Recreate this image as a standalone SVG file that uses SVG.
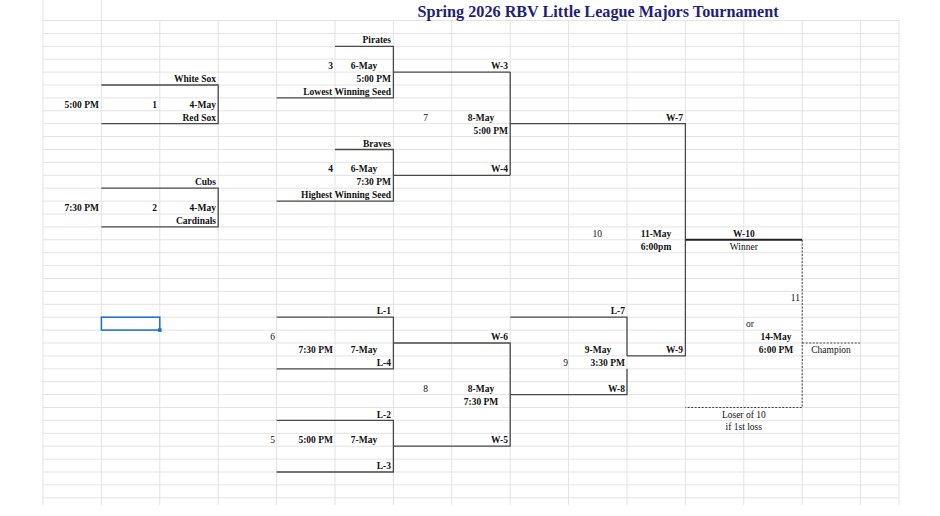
<svg xmlns="http://www.w3.org/2000/svg" width="940" height="516" viewBox="0 0 940 516">
<style>
.g{stroke:#e3e3e3;stroke-width:1;fill:none}
.b{stroke:#4a4a4a;stroke-width:1.3;fill:none}
.d{stroke:#444;stroke-width:1;stroke-dasharray:2,1.5;fill:none}
text{font-family:"Liberation Serif",serif;font-size:9.5px;font-weight:bold;fill:#111}
.n{font-weight:normal}
.r{text-anchor:end}.c{text-anchor:middle}
</style>
<rect width="940" height="516" fill="#fff"/>
<g id="grid" class="g">
<path d="M43,0V505M101.4,0V505M159.8,20V505M218.2,20V505M276.6,20V505M335,20V505M393.4,20V505M451.8,20V505M510.2,20V505M568.6,20V505M627,20V505M685.4,20V505M743.8,20V505M802.2,20V505M860.6,20V505M899,20V505"/>
<path d="M43,20.5H899M43,33.4H899M43,46.3H899M43,59.2H899M43,72.1H899M43,85H899M43,97.9H899M43,110.8H899M43,123.7H899M43,136.6H899M43,149.5H899M43,162.4H899M43,175.3H899M43,188.2H899M43,201.1H899M43,214H899M43,226.9H899M43,239.8H899M43,252.7H899M43,265.6H899M43,278.5H899M43,291.4H899M43,304.3H899M43,317.2H899M43,330.1H899M43,343H899M43,355.9H899M43,368.8H899M43,381.7H899M43,394.6H899M43,407.5H899M43,420.4H899M43,433.3H899M43,446.2H899M43,459.1H899M43,472H899M43,484.9H899M43,497.8H899"/>
</g>
<text x="598" y="17" class="c" style="font-size:16.2px;fill:#1f1f7a">Spring 2026 RBV Little League Majors Tournament</text>
<g id="connectors">
<path class="b" d="M101.4,85H218.2V123.7H101.4"/>
<path class="b" d="M101.4,188.2H218.2V226.9H101.4"/>
<path class="b" d="M335,46.3H393.4V97.9H276.6M393.4,72.1H510.2"/>
<path class="b" d="M335,149.5H393.4V201.1H276.6M393.4,175.3H510.2"/>
<path class="b" d="M510.2,72.1V175.3M510.2,123.7H685.4V355.9H627"/>
<path class="b" d="M276.6,317.2H393.4V368.8H276.6M393.4,343H510.2V446.2H393.4"/>
<path class="b" d="M276.6,420.4H393.4V472H276.6"/>
<path class="b" d="M510.2,317.2H627V355.9M627,368.8V394.6H510.2"/>
<path d="M685.4,239.8H802.2" stroke="#222" stroke-width="2"/>
<path class="d" d="M802.2,240V407.5H685.4M802.2,343H860.6"/>
</g>
<g id="game1"><text x="216" y="82.1" class="r">White Sox</text><text x="99" y="107.9" class="r">5:00 PM</text><text x="157" y="107.9" class="r">1</text><text x="216" y="107.9" class="r">4-May</text><text x="216" y="120.8" class="r">Red Sox</text></g>
<g id="game2"><text x="216" y="185.3" class="r">Cubs</text><text x="99" y="211.1" class="r">7:30 PM</text><text x="157" y="211.1" class="r">2</text><text x="216" y="211.1" class="r">4-May</text><text x="216" y="224" class="r">Cardinals</text></g>
<g id="game3"><text x="391" y="43.4" class="r">Pirates</text><text x="333" y="69.2" class="r">3</text><text x="364" y="69.2" class="c">6-May</text><text x="391" y="82.1" class="r">5:00 PM</text><text x="391" y="95" class="r">Lowest Winning Seed</text><text x="508" y="69.2" class="r">W-3</text></g>
<g id="game4"><text x="391" y="146.6" class="r">Braves</text><text x="333" y="172.4" class="r">4</text><text x="364" y="172.4" class="c">6-May</text><text x="391" y="185.3" class="r">7:30 PM</text><text x="391" y="198.2" class="r">Highest Winning Seed</text><text x="508" y="172.4" class="r">W-4</text></g>
<g id="game7"><text x="428" y="120.8" class="r n">7</text><text x="481" y="120.8" class="c">8-May</text><text x="508" y="133.7" class="r">5:00 PM</text><text x="683" y="120.8" class="r">W-7</text></g>
<g id="game10"><text x="602" y="236.9" class="r n">10</text><text x="656" y="236.9" class="c">11-May</text><text x="656" y="249.8" class="c">6:00pm</text><text x="743.8" y="236.9" class="c">W-10</text><text x="743.8" y="249.8" class="c n">Winner</text></g>
<g id="game11"><text x="800" y="301.4" class="r n">11</text><text x="750" y="327.2" class="c n">or</text><text x="776" y="340.1" class="c">14-May</text><text x="776" y="353" class="c">6:00 PM</text><text x="831" y="353" class="c n">Champion</text><text x="743.8" y="417.5" class="c n">Loser of 10</text><text x="743.8" y="430.4" class="c n">if 1st loss</text></g>
<g id="game9"><text x="625" y="314.3" class="r">L-7</text><text x="598" y="353" class="c">9-May</text><text x="568" y="365.9" class="r n">9</text><text x="625" y="365.9" class="r">3:30 PM</text><text x="683" y="353" class="r">W-9</text><text x="625" y="391.7" class="r">W-8</text></g>
<g id="game6"><text x="391" y="314.3" class="r">L-1</text><text x="275" y="340.1" class="r n">6</text><text x="333" y="353" class="r">7:30 PM</text><text x="364" y="353" class="c">7-May</text><text x="391" y="365.9" class="r">L-4</text><text x="508" y="340.1" class="r">W-6</text></g>
<g id="game8"><text x="428" y="391.7" class="r n">8</text><text x="481" y="391.7" class="c">8-May</text><text x="481" y="404.6" class="c">7:30 PM</text></g>
<g id="game5"><text x="391" y="417.5" class="r">L-2</text><text x="275" y="443.3" class="r n">5</text><text x="333" y="443.3" class="r">5:00 PM</text><text x="364" y="443.3" class="c">7-May</text><text x="391" y="469.1" class="r">L-3</text><text x="508" y="443.3" class="r">W-5</text></g>
<g id="selection"><rect x="101.4" y="317.2" width="58.4" height="12.9" fill="none" stroke="#1a6fd1" stroke-width="1.5"/><rect x="158" y="328.3" width="3.6" height="3.6" fill="#1a6fd1"/></g>
</svg>
